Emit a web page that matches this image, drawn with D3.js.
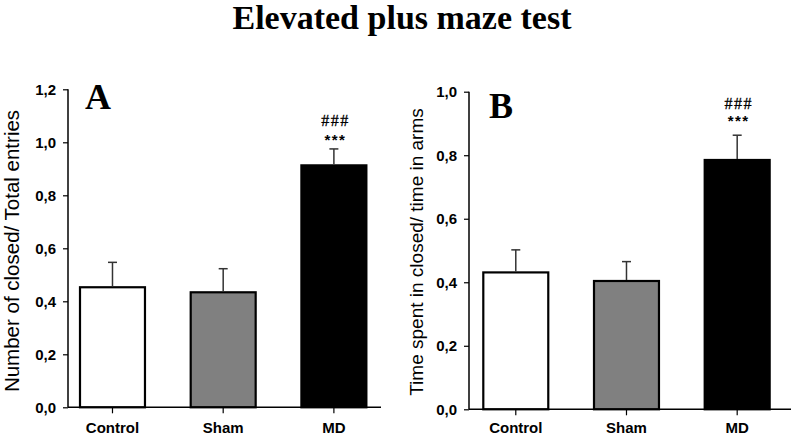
<!DOCTYPE html>
<html>
<head>
<meta charset="utf-8">
<script src="https://cdn.jsdelivr.net/npm/d3@7/dist/d3.min.js"></script>
<style>
  html, body { margin: 0; padding: 0; background: #fff; }
  svg { display: block; }
</style>
</head>
<body>
<svg id="chart" width="798" height="435"></svg>
<script>
// ---- data ----
const categories = ["Control", "Sham", "MD"];
const meansA = [0.453, 0.434, 0.913];
const semA = [0.094, 0.089, 0.062];
const meansB = [0.431, 0.404, 0.785];
const semB = [0.071, 0.061, 0.078];
const ticksA = [0, 0.2, 0.4, 0.6, 0.8, 1.0, 1.2];
const ticksB = [0, 0.2, 0.4, 0.6, 0.8, 1.0];
const starLabels = ["", "", "***"];
const hashLabels = ["", "", "###"];
const fills = ["#ffffff", "#808080", "#000000"];
const title = "Elevated plus maze test";

const locale = d3.formatLocale({decimal: ",", thousands: ".", grouping: [3], currency: ["", ""]});
const fmt = locale.format(".1f");

const svg = d3.select("#chart");

svg.append("text")
  .attr("x", 402).attr("y", 29)
  .attr("text-anchor", "middle")
  .style("font-family", "'Liberation Serif', 'Times New Roman', serif")
  .style("font-weight", "bold")
  .style("font-size", "34px")
  .text(title);

function panel(cfg) {
  const g = svg.append("g");
  const y = d3.scaleLinear().domain([0, cfg.max]).range([cfg.y0, cfg.y1]);
  const step = 110.7;
  const pin = 0.395;
  const x = d3.scaleBand().domain(categories)
    .range([cfg.x0 + cfg.off, cfg.x0 + cfg.off + step * (categories.length - pin)])
    .paddingInner(pin).paddingOuter(0);

  // bars
  g.selectAll("rect.bar").data(categories).enter().append("rect")
    .attr("x", d => x(d) + 1)
    .attr("width", x.bandwidth() - 2)
    .attr("y", (d, i) => y(cfg.means[i]))
    .attr("height", (d, i) => y(0) - y(cfg.means[i]))
    .attr("fill", (d, i) => fills[i])
    .attr("stroke", "#000")
    .attr("stroke-width", 2.2);

  // error bars
  const eb = g.selectAll("g.err").data(categories).enter().append("g");
  eb.append("line")
    .attr("x1", d => x(d) + x.bandwidth() / 2)
    .attr("x2", d => x(d) + x.bandwidth() / 2)
    .attr("y1", (d, i) => y(cfg.means[i]) - 1)
    .attr("y2", (d, i) => y(cfg.means[i] + cfg.sem[i]))
    .attr("stroke", "#333").attr("stroke-width", 1.5);
  eb.append("line")
    .attr("x1", d => x(d) + x.bandwidth() / 2 - 4.5)
    .attr("x2", d => x(d) + x.bandwidth() / 2 + 4.5)
    .attr("y1", (d, i) => y(cfg.means[i] + cfg.sem[i]))
    .attr("y2", (d, i) => y(cfg.means[i] + cfg.sem[i]))
    .attr("stroke", "#333").attr("stroke-width", 1.5);

  // annotations
  g.selectAll("text.star").data(categories).enter().append("text")
    .attr("x", d => x(d) + x.bandwidth() / 2 + 1.5)
    .attr("y", (d, i) => y(cfg.means[i] + cfg.sem[i]) - cfg.starOff)
    .attr("text-anchor", "middle")
    .style("font-family", "'Liberation Sans', Arial, sans-serif")
    .style("font-weight", "bold")
    .style("font-size", "15px")
    .style("letter-spacing", "1.5px")
    .text((d, i) => starLabels[i]);
  g.selectAll("text.hash").data(categories).enter().append("text")
    .attr("x", d => x(d) + x.bandwidth() / 2 + 1.5)
    .attr("y", (d, i) => y(cfg.means[i] + cfg.sem[i]) - cfg.hashOff)
    .attr("text-anchor", "middle")
    .style("font-family", "'Liberation Serif', 'Times New Roman', serif")
    .style("font-size", "16px")
    .style("letter-spacing", "1.5px")
    .style("stroke", "#000").style("stroke-width", "0.3px")
    .text((d, i) => hashLabels[i]);

  // y axis
  const yAxis = d3.axisLeft(y).tickValues(cfg.ticks).tickFormat(fmt).tickSize(5).tickPadding(7);
  const ya = g.append("g").attr("transform", `translate(${cfg.x0},0)`).call(yAxis);
  ya.select(".domain").attr("stroke", "#000").attr("stroke-width", 1.5).attr("d", `M-0,${cfg.y0}V${cfg.y1}`);
  ya.selectAll(".tick line").attr("stroke", "#000").attr("stroke-width", 1.2);
  ya.selectAll(".tick text")
    .style("font-family", "'Liberation Sans', Arial, sans-serif")
    .style("font-weight", "bold").style("font-size", "15px").attr("fill", "#000");

  // x axis
  const xa = g.append("g").attr("transform", `translate(0,${cfg.y0})`)
    .call(d3.axisBottom(x).tickSize(6).tickPadding(cfg.xPad));
  xa.select(".domain").attr("stroke", "#000").attr("stroke-width", 1.5)
    .attr("d", `M${cfg.x0},0H${cfg.x1}`);
  xa.selectAll(".tick line").attr("stroke", "#000").attr("stroke-width", 1.2);
  xa.selectAll(".tick text")
    .style("font-family", "'Liberation Sans', Arial, sans-serif")
    .style("font-weight", "bold").style("font-size", "15px").attr("fill", "#000");

  // y label
  g.append("text")
    .attr("transform", `translate(${cfg.labelX},${cfg.labelY}) rotate(-90)`)
    .attr("text-anchor", "middle")
    .style("font-family", "'Liberation Sans', Arial, sans-serif")
    .style("font-size", cfg.labelSize + "px")
    .text(cfg.label);

  // panel letter
  g.append("text")
    .attr("x", cfg.letterX).attr("y", cfg.letterY)
    .style("font-family", "'Liberation Serif', 'Times New Roman', serif")
    .style("font-weight", "bold").style("font-size", "36px")
    .text(cfg.letter);
}

panel({
  means: meansA, sem: semA, ticks: ticksA, max: 1.2,
  x0: 68, x1: 381, y0: 407.3, y1: 89.3, off: 11, xPad: 9,
  label: "Number of closed/ Total entries", labelX: 19, labelY: 251, labelSize: 20.5,
  letter: "A", letterX: 85, letterY: 109,
  starOff: 4, hashOff: 22.5
});
panel({
  means: meansB, sem: semB, ticks: ticksB, max: 1.0,
  x0: 469, x1: 791, y0: 409.3, y1: 91.7, off: 13.3, xPad: 7,
  label: "Time spent in closed/ time in arms", labelX: 423, labelY: 252, labelSize: 19,
  letter: "B", letterX: 489, letterY: 117.5,
  starOff: 9, hashOff: 26.7
});
</script>
</body>
</html>
